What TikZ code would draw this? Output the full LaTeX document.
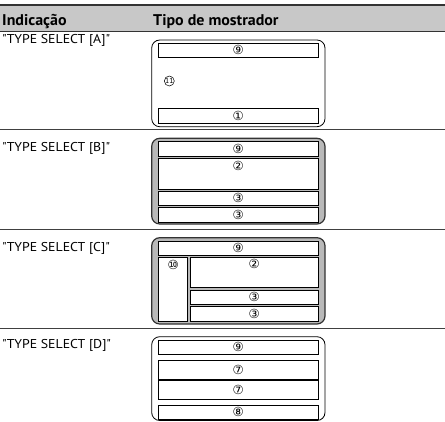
\documentclass[tikz,border=0pt]{standalone}
\usepackage{fontspec}
\setmainfont{PT Sans}
\newfontfamily\condfont[FakeStretch=1.08]{PT Sans}
\newfontfamily\hdrfont[FakeStretch=1.03]{PT Sans}
\newfontfamily\numfont{DejaVu Sans}
\definecolor{hdrgray}{RGB}{200,200,200}
\definecolor{bezel}{RGB}{185,185,185}
\tikzset{
  outerwhite/.style={draw=black, line width=0.8pt, fill=white, rounded corners=8pt},
  outergray/.style={draw=black!80, line width=1.2pt, fill=bezel, rounded corners=8pt},
  bar/.style={draw=black, line width=0.9pt, fill=white, inner sep=0pt, font=\numfont\fontsize{12.5}{12.5}\selectfont},
  num/.style={inner sep=0pt, font=\numfont\fontsize{12.5}{12.5}\selectfont},
  circnum/.style={circle, draw=black, line width=0.5pt, inner sep=0pt, minimum size=10pt, font=\hdrfont\fontsize{7.5}{7.5}\selectfont},
  lbl/.style={anchor=base west, inner sep=0pt, font=\condfont\fontsize{12.8}{14}\selectfont},
  hdr/.style={anchor=base west, inner sep=0pt, font=\hdrfont\bfseries\fontsize{15.5}{16}\selectfont},
  sep/.style={draw=black!75, line width=1pt}
}
\begin{document}
\begin{tikzpicture}[x=1pt,y=-1pt]
\useasboundingbox (0,0) rectangle (445,421);
% header
\fill[hdrgray] (0,5) rectangle (445,31);
\draw[black!80, line width=1.5pt] (0,5) -- (445,5);
\draw[black!80, line width=1pt] (0,31) -- (445,31);
\node[hdr] (h1) at (2,25) {Indicação};
\node[hdr] (h2) at (153,25) {Tipo de mostrador};
% separators
\draw[sep] (0,129.3) -- (445,129.3);
\draw[sep] (0,229.3) -- (445,229.3);
\draw[sep] (0,328.3) -- (445,328.3);
% labels
\node[lbl] (la) at (2,43) {"TYPE SELECT [A]"};
\node[lbl] (lb) at (2,151.7) {"TYPE SELECT [B]"};
\node[lbl] (lc) at (2,251.7) {"TYPE SELECT [C]"};
\node[lbl] (ld) at (2,348) {"TYPE SELECT [D]"};
% box A
\draw[outerwhite] (151.7,40) rectangle (325,126.7);
\node[bar, minimum width=160pt, minimum height=14pt] (a9) at (238.3,50.3) {⑨};
\node[bar, minimum width=160pt, minimum height=15pt] (a1) at (238.3,115.8) {①};
\node[circnum] (a11) at (169.3,81) {11};
% box B
\draw[outergray] (151.7,138.3) rectangle (325,224);
\node[bar, minimum width=160pt, minimum height=14.3pt] (b9) at (238.3,148.85) {⑨};
\node[bar, minimum width=160pt, minimum height=31pt] (b2) at (238.3,173.8) {};
\node[num] (b2n) at (238.3,166) {②};
\node[bar, minimum width=160pt, minimum height=14.7pt] (b3) at (238.3,198.35) {③};
\node[bar, minimum width=160pt, minimum height=15pt] (b3b) at (238.3,214.8) {③};
% box C
\draw[outergray] (151.7,237.7) rectangle (325,324);
\node[bar, minimum width=160pt, minimum height=14pt] (c9) at (238.3,248) {⑨};
\node[bar, minimum width=29pt, minimum height=64.4pt] (c10) at (172.8,289.5) {};
\node[num] (c10n) at (173.3,265) {⑩};
\node[bar, minimum width=128.3pt, minimum height=30pt] (c2) at (254.15,272.3) {};
\node[num] (c2n) at (254.15,264.3) {②};
\node[bar, minimum width=128.3pt, minimum height=14pt] (c3) at (254.15,297) {③};
\node[bar, minimum width=128.3pt, minimum height=15pt] (c3b) at (254.15,313.5) {③};
% box D
\draw[outerwhite] (151.7,336.7) rectangle (325,420.5);
\node[bar, minimum width=160pt, minimum height=14.3pt] (d9) at (238.3,347.15) {⑨};
\node[bar, minimum width=160pt, minimum height=18.6pt] (d7) at (238.3,370) {⑦};
\node[bar, minimum width=160pt, minimum height=19pt] (d7b) at (238.3,389.5) {⑦};
\node[bar, minimum width=160pt, minimum height=14pt] (d8) at (238.3,412) {⑧};
\end{tikzpicture}
\end{document}
